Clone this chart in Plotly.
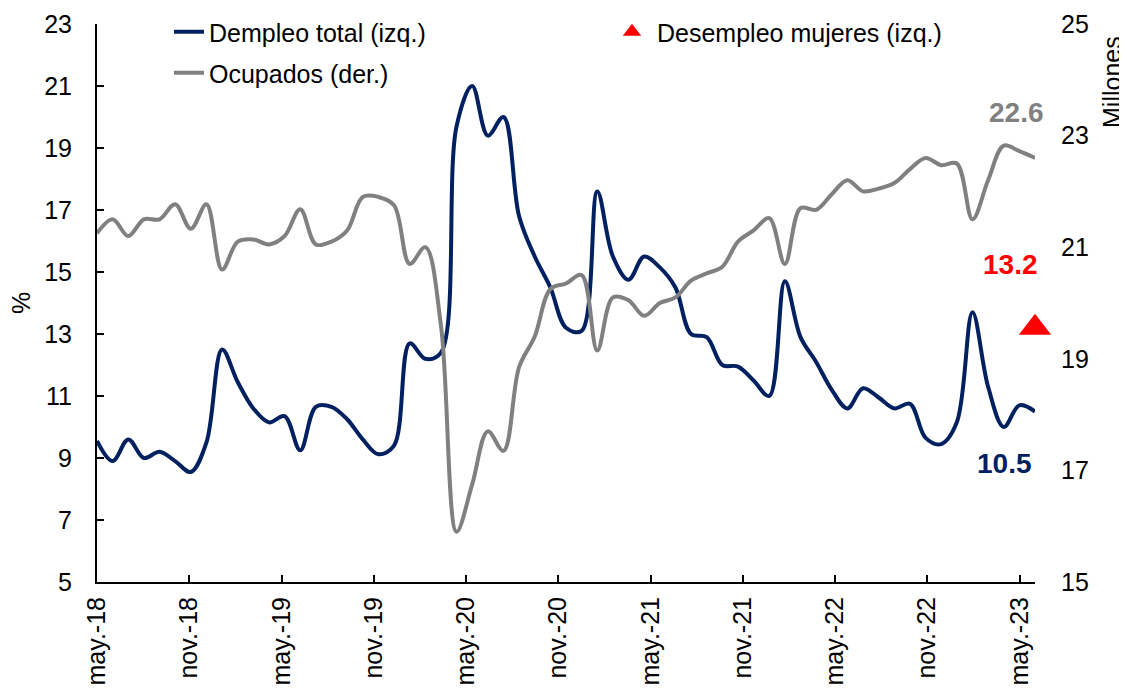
import plotly.graph_objects as go

# ---- Data (monthly, may-18 .. may-23) ----
desempleo_total = [9.55, 8.9, 9.6, 9.0, 9.2, 8.9, 8.55, 9.5, 12.5, 11.45,
                   10.6, 10.15, 10.35, 9.25, 10.65, 10.65, 10.25, 9.6, 9.12, 9.4,
                   12.7, 12.2, 12.4, 19.7, 21.0, 19.4, 20.0, 16.8, 15.5, 14.5,
                   13.2, 13.1, 17.6, 15.5, 14.75, 15.5, 15.15, 14.5, 13.0, 12.9,
                   12.0, 11.95, 11.5, 11.0, 14.7, 12.9, 12.1, 11.2, 10.6, 11.25,
                   10.95, 10.6, 10.75, 9.65, 9.45, 10.15, 13.7, 11.3, 10.0, 10.7,
                   10.5]
ocupados = [21.25, 21.5, 21.2, 21.5, 21.5, 21.77, 21.33, 21.77, 20.6, 21.1,
            21.14, 21.05, 21.2, 21.68, 21.05, 21.1, 21.3, 21.9, 21.9, 21.75,
            20.7, 21.0, 19.6, 15.9, 16.75, 17.7, 17.35, 18.85, 19.4, 20.25,
            20.35, 20.5, 19.15, 20.1, 20.05, 19.77, 20.0, 20.1, 20.4, 20.53,
            20.65, 21.1, 21.3, 21.52, 20.7, 21.7, 21.67, 21.95, 22.2, 22.0,
            22.05, 22.15, 22.4, 22.6, 22.47, 22.5, 21.5, 22.2, 22.82, 22.72,
            22.6]
desempleo_mujeres_ultimo = 13.2
tick_labels = ["may.-18", "nov.-18", "may.-19", "nov.-19", "may.-20", "nov.-20",
               "may.-21", "nov.-21", "may.-22", "nov.-22", "may.-23"]

n = len(desempleo_total)
x = list(range(n))
last = n - 1
# tick marks of the source axis are spaced 6 months on a 61-slot scale
tickvals = [k * 6 * (n - 1) / n for k in range(len(tick_labels))]

NAVY = "#002060"
GRAY = "#808080"
RED = "#FF0000"
FONT = "Liberation Sans, Arial, sans-serif"

fig = go.Figure()
fig.add_trace(go.Scatter(x=x, y=desempleo_total, mode="lines", name="Dempleo total (izq.)",
                         line=dict(color=NAVY, width=4, shape="spline", smoothing=1.0),
                         legend="legend", yaxis="y"))
fig.add_trace(go.Scatter(x=x, y=ocupados, mode="lines", name="Ocupados (der.)",
                         line=dict(color=GRAY, width=4, shape="spline", smoothing=1.0),
                         legend="legend3", yaxis="y2"))
fig.add_trace(go.Scatter(x=[last], y=[desempleo_mujeres_ultimo], mode="markers",
                         name="Desempleo mujeres (izq.)", cliponaxis=False,
                         marker=dict(symbol="triangle-up", size=28, color=RED),
                         legend="legend2", yaxis="y"))

# page body has an 8px margin: the figure starts at (8, 8)
OFF = 8
W, H = 1127 - OFF, 695 - OFF
L, R, T, B = 97, 1035, 24, 582          # plot area in window pixels
def px(xp):
    return (xp - L) / (R - L)
def py(yp):
    return (B - yp) / (B - T)

fig.update_layout(
    width=W, height=H,
    margin=dict(l=L - OFF, r=W - (R - OFF), t=T - OFF, b=H - (B - OFF), autoexpand=False),
    paper_bgcolor="white", plot_bgcolor="white",
    font=dict(family=FONT, size=25, color="black"),
    xaxis=dict(range=[0, last], tickvals=tickvals, ticktext=tick_labels, tickangle=-90,
               showgrid=False, zeroline=False, showline=True, linecolor="black", linewidth=2,
               ticks="inside", ticklen=7, tickwidth=2, tickcolor="black",
               ticklabelstandoff=3, fixedrange=True),
    yaxis=dict(range=[5, 23], dtick=2, tick0=5, showgrid=False, zeroline=False,
               showline=True, linecolor="black", linewidth=2,
               ticks="inside", ticklen=7, tickwidth=2, tickcolor="black",
               ticklabelstandoff=18),
    yaxis2=dict(range=[15, 25], dtick=2, tick0=15, overlaying="y", side="right",
                showgrid=False, zeroline=False, showline=False, ticks="",
                ticklabelstandoff=25),
    legend=dict(x=px(169), y=py(32), xanchor="left", yanchor="middle",
                bgcolor="rgba(0,0,0,0)", font=dict(size=25), itemwidth=30),
    legend3=dict(x=px(169), y=py(73), xanchor="left", yanchor="middle",
                 bgcolor="rgba(0,0,0,0)", font=dict(size=25), itemwidth=30),
    legend2=dict(x=px(607), y=py(32), xanchor="left", yanchor="middle",
                 bgcolor="rgba(0,0,0,0)", font=dict(size=25), itemwidth=40),
    showlegend=True,
)

def y_left(v):
    return B - (v - 5) * (B - T) / 18
def y_right(v):
    return B - (v - 15) * (B - T) / 10

fig.add_annotation(x=last, y=ocupados[-1], xref="x", yref="y2", text="<b>22.6</b>",
                   showarrow=False, xshift=1016 - R, yshift=y_right(ocupados[-1]) - 112,
                   font=dict(size=28, color=GRAY, family=FONT))
fig.add_annotation(x=last, y=desempleo_mujeres_ultimo, xref="x", yref="y", text="<b>13.2</b>",
                   showarrow=False, xshift=1010 - R, yshift=y_left(desempleo_mujeres_ultimo) - 265,
                   font=dict(size=28, color=RED, family=FONT))
fig.add_annotation(x=last, y=desempleo_total[-1], xref="x", yref="y", text="<b>10.5</b>",
                   showarrow=False, xshift=1004 - R, yshift=y_left(desempleo_total[-1]) - 463,
                   font=dict(size=28, color=NAVY, family=FONT))
fig.add_annotation(x=px(21), y=0.5, xref="paper", yref="paper", text="%", textangle=-90,
                   showarrow=False, font=dict(size=25, family=FONT), xanchor="center", yanchor="middle")
fig.add_annotation(x=px(1112), y=py(82), xref="paper", yref="paper", text="Millones", textangle=-90,
                   showarrow=False, font=dict(size=25, family=FONT), xanchor="center", yanchor="middle")

fig.write_html("out.html")
